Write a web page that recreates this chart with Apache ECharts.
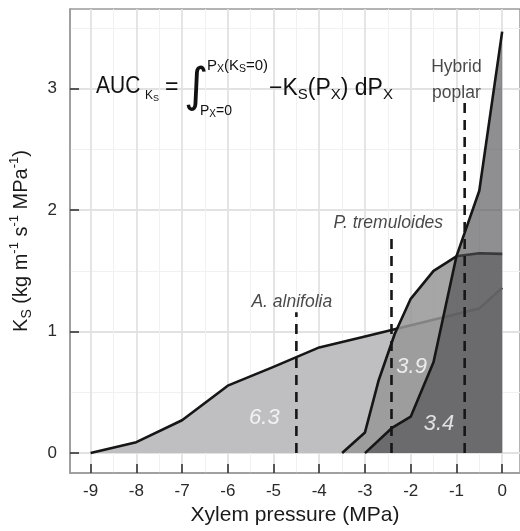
<!DOCTYPE html>
<html><head><meta charset="utf-8">
<script src="https://cdn.jsdelivr.net/npm/echarts@6/dist/echarts.min.js"></script>
<style>html,body{margin:0;padding:0;background:#fff}#c{width:520px;height:531px}</style>
</head><body><div id="c"></div>
<script>
// ---- data ----
const alnifoliaX = [-9, -8, -7, -6, -5, -4, -3, -2.35, -0.5, 0];
const alnifoliaY = [0, 0.09, 0.27, 0.555, 0.71, 0.87, 0.96, 1.02, 1.19, 1.36];
const tremuloidesX = [-3.5, -3, -2.7, -2.35, -2, -1.5, -1, -0.5, 0];
const tremuloidesY = [0, 0.17, 0.6, 0.98, 1.27, 1.5, 1.62, 1.645, 1.64];
const poplarX = [-3, -2.4, -2, -1.5, -1, -0.5, 0];
const poplarY = [0, 0.21, 0.30, 0.75, 1.62, 2.16, 3.47];
const p50X = [-4.5, -2.42, -0.82];
const p50Top = [1.16, 1.79, 2.92];
const aucValues = ['6.3', '3.9', '3.4'];
const speciesNames = ['A. alnifolia', 'P. tremuloides', 'Hybrid\npoplar'];
const xTicks = [-9, -8, -7, -6, -5, -4, -3, -2, -1, 0];
const xMinor = [-8.5, -7.5, -6.5, -5.5, -4.5, -3.5, -2.5, -1.5, -0.5];
const yTicks = [0, 1, 2, 3];
const yMinor = [0.5, 1.5, 2.5, 3.5];

const pairs = (xs, ys) => xs.map((x, i) => [x, ys[i]]);
const FONT = "'Liberation Sans', Arial, Helvetica, sans-serif";
const XMIN = -9.45, XMAX = 0.39, YMIN = -0.164, YMAX = 3.656;

const chart = echarts.init(document.getElementById('c'), null, {renderer: 'canvas'});

function areaSeries(name, data, fill, z) {
  return {
    type: 'line', name, data, z, xAxisIndex: 0, yAxisIndex: 0,
    symbol: 'none', smooth: false, animation: false,
    lineStyle: {color: '#161616', width: 2.6, join: 'round'},
    areaStyle: {color: fill, opacity: 1, origin: 0}
  };
}

const labelSeries = {
  type: 'scatter', z: 20, symbolSize: 0, animation: false, silent: true,
  data: [
    {value: [-4.6, 1.24], label: {formatter: speciesNames[0]}},
    {value: [-2.49, 1.89], label: {formatter: speciesNames[1]}},
    {value: [-1.0, 3.07], label: {formatter: speciesNames[2], fontStyle: 'normal', lineHeight: 26}}
  ],
  label: {show: true, position: 'inside', align: 'center', verticalAlign: 'middle',
          fontFamily: FONT, fontSize: 17.5, color: '#1a1a1a', fontStyle: 'italic'}
};

const aucSeries = {
  type: 'scatter', z: 20, symbolSize: 0, animation: false, silent: true,
  data: [
    {value: [-5.2, 0.29], label: {formatter: aucValues[0]}},
    {value: [-1.98, 0.71], label: {formatter: aucValues[1]}},
    {value: [-1.38, 0.24], label: {formatter: aucValues[2]}}
  ],
  label: {show: true, position: 'inside', fontFamily: FONT, fontSize: 22, color: '#ffffff', fontStyle: 'italic'}
};

const dashSeries = p50X.map((x, i) => ({
  type: 'line', z: 15, symbol: 'none', animation: false, silent: true,
  data: [[x, 0], [x, p50Top[i]]],
  lineStyle: {color: '#161616', width: 2.6, type: [10, 7]}
}));

const gridLine = (c, w) => ({show: true, lineStyle: {color: c, width: w}});

const option = {
  backgroundColor: '#ffffff',
  animation: false,
  grid: {left: 67, top: 9, width: 455, height: 466, show: true, borderColor: '#9a9a9a', borderWidth: 1.5, backgroundColor: '#ffffff'},
  xAxis: [
    {
      type: 'value', min: XMIN, max: XMAX, position: 'bottom',
      name: 'Xylem pressure (MPa)', nameLocation: 'middle', nameGap: 32,
      nameTextStyle: {fontFamily: FONT, fontSize: 21, color: '#1a1a1a'},
      axisLine: {show: true, onZero: false, lineStyle: {color: '#9a9a9a', width: 1.5}},
      axisTick: {show: true, inside: true, length: 9, customValues: xTicks, lineStyle: {color: '#2a2a2a', width: 1.5}},
      axisLabel: {customValues: xTicks, fontFamily: FONT, fontSize: 17, color: '#2a2a2a', margin: 10},
      splitLine: gridLine('#e2e2e2', 1.8)
    },
    {
      type: 'value', min: XMIN, max: XMAX, position: 'bottom', gridIndex: 0,
      axisLine: {show: false}, axisLabel: {show: false},
      axisTick: {show: false, customValues: xMinor},
      splitLine: gridLine('#f1f1f1', 1)
    }
  ],
  yAxis: [
    {
      type: 'value', min: YMIN, max: YMAX,
      name: '{k|K}{ks|S}{t| (kg m}{sup|-1}{t| s}{sup|-1}{t| MPa}{sup|-1}{t|)}',
      nameLocation: 'middle', nameGap: 36, nameRotate: 90,
      nameTextStyle: {
        fontFamily: FONT, color: '#1a1a1a',
        rich: {
          k: {fontFamily: FONT, fontSize: 20, lineHeight: 26, verticalAlign: 'middle', color: '#1a1a1a'},
          t: {fontFamily: FONT, fontSize: 20, lineHeight: 26, verticalAlign: 'middle', color: '#1a1a1a'},
          ks: {fontFamily: FONT, fontSize: 14, lineHeight: 16, verticalAlign: 'bottom', color: '#1a1a1a'},
          sup: {fontFamily: FONT, fontSize: 13, lineHeight: 14, verticalAlign: 'top', color: '#1a1a1a'}
        }
      },
      axisLine: {show: true, onZero: false, lineStyle: {color: '#9a9a9a', width: 1.5}},
      axisTick: {show: true, inside: true, length: 9, customValues: yTicks, lineStyle: {color: '#2a2a2a', width: 1.5}},
      axisLabel: {customValues: yTicks, fontFamily: FONT, fontSize: 17, color: '#2a2a2a', margin: 13},
      splitLine: gridLine('#e2e2e2', 1.8)
    },
    {
      type: 'value', min: YMIN, max: YMAX, gridIndex: 0,
      axisLine: {show: false}, axisLabel: {show: false},
      axisTick: {show: false, customValues: yMinor},
      splitLine: gridLine('#f1f1f1', 1)
    }
  ],
  series: [
    areaSeries('A. alnifolia', pairs(alnifoliaX, alnifoliaY), 'rgb(191,191,193)', 2),
    areaSeries('P. tremuloides', pairs(tremuloidesX, tremuloidesY), 'rgba(150,150,152,0.85)', 3),
    areaSeries('Hybrid poplar', pairs(poplarX, poplarY), 'rgba(78,78,80,0.63)', 4),
    ...dashSeries,
    labelSeries,
    aucSeries
  ],
  graphic: [
    {type: 'text', x: 96, y: 87, z: 30, scaleY: 1.1, style: {text: 'AUC', fontFamily: FONT, fontSize: 21, fill: '#111', verticalAlign: 'middle'}},
    {type: 'text', x: 145, y: 96, z: 30, style: {text: '{a|K}{b|S}', verticalAlign: 'middle', rich: {
      a: {fontFamily: FONT, fontSize: 12, lineHeight: 14, verticalAlign: 'middle', fill: '#111'},
      b: {fontFamily: FONT, fontSize: 9, lineHeight: 10, verticalAlign: 'bottom', fill: '#111'}}}},
    {type: 'text', x: 165, y: 88, z: 30, style: {text: '=', fontFamily: FONT, fontSize: 23, fill: '#111', verticalAlign: 'middle'}},
    {type: 'text', x: 184, y: 89, z: 30, style: {text: '\u222B', fontFamily: "'DejaVu Sans', sans-serif", fontSize: 47, fill: '#111', verticalAlign: 'middle'}},
    {type: 'text', x: 207, y: 66, z: 30, style: {text: '{a|P}{b|X}{a|(K}{b|S}{a|=0)}', verticalAlign: 'middle', rich: {
      a: {fontFamily: FONT, fontSize: 15, lineHeight: 17, verticalAlign: 'middle', fill: '#111'},
      b: {fontFamily: FONT, fontSize: 10.5, lineHeight: 10, verticalAlign: 'bottom', fill: '#111'}}}},
    {type: 'text', x: 200, y: 111, z: 30, style: {text: '{a|P}{b|X}{a|=0}', verticalAlign: 'middle', rich: {
      a: {fontFamily: FONT, fontSize: 14, lineHeight: 16, verticalAlign: 'middle', fill: '#111'},
      b: {fontFamily: FONT, fontSize: 10, lineHeight: 10, verticalAlign: 'bottom', fill: '#111'}}}},
    {type: 'text', x: 269, y: 89, z: 30, style: {text: '{a|\u2212K}{b|S}{a|(P}{b|X}{a|) dP}{b|X}', verticalAlign: 'middle', rich: {
      a: {fontFamily: FONT, fontSize: 23, lineHeight: 27, verticalAlign: 'middle', fill: '#111'},
      b: {fontFamily: FONT, fontSize: 15, lineHeight: 15, verticalAlign: 'bottom', fill: '#111'}}}}
  ]
};
chart.setOption(option);
</script>
</body></html>
